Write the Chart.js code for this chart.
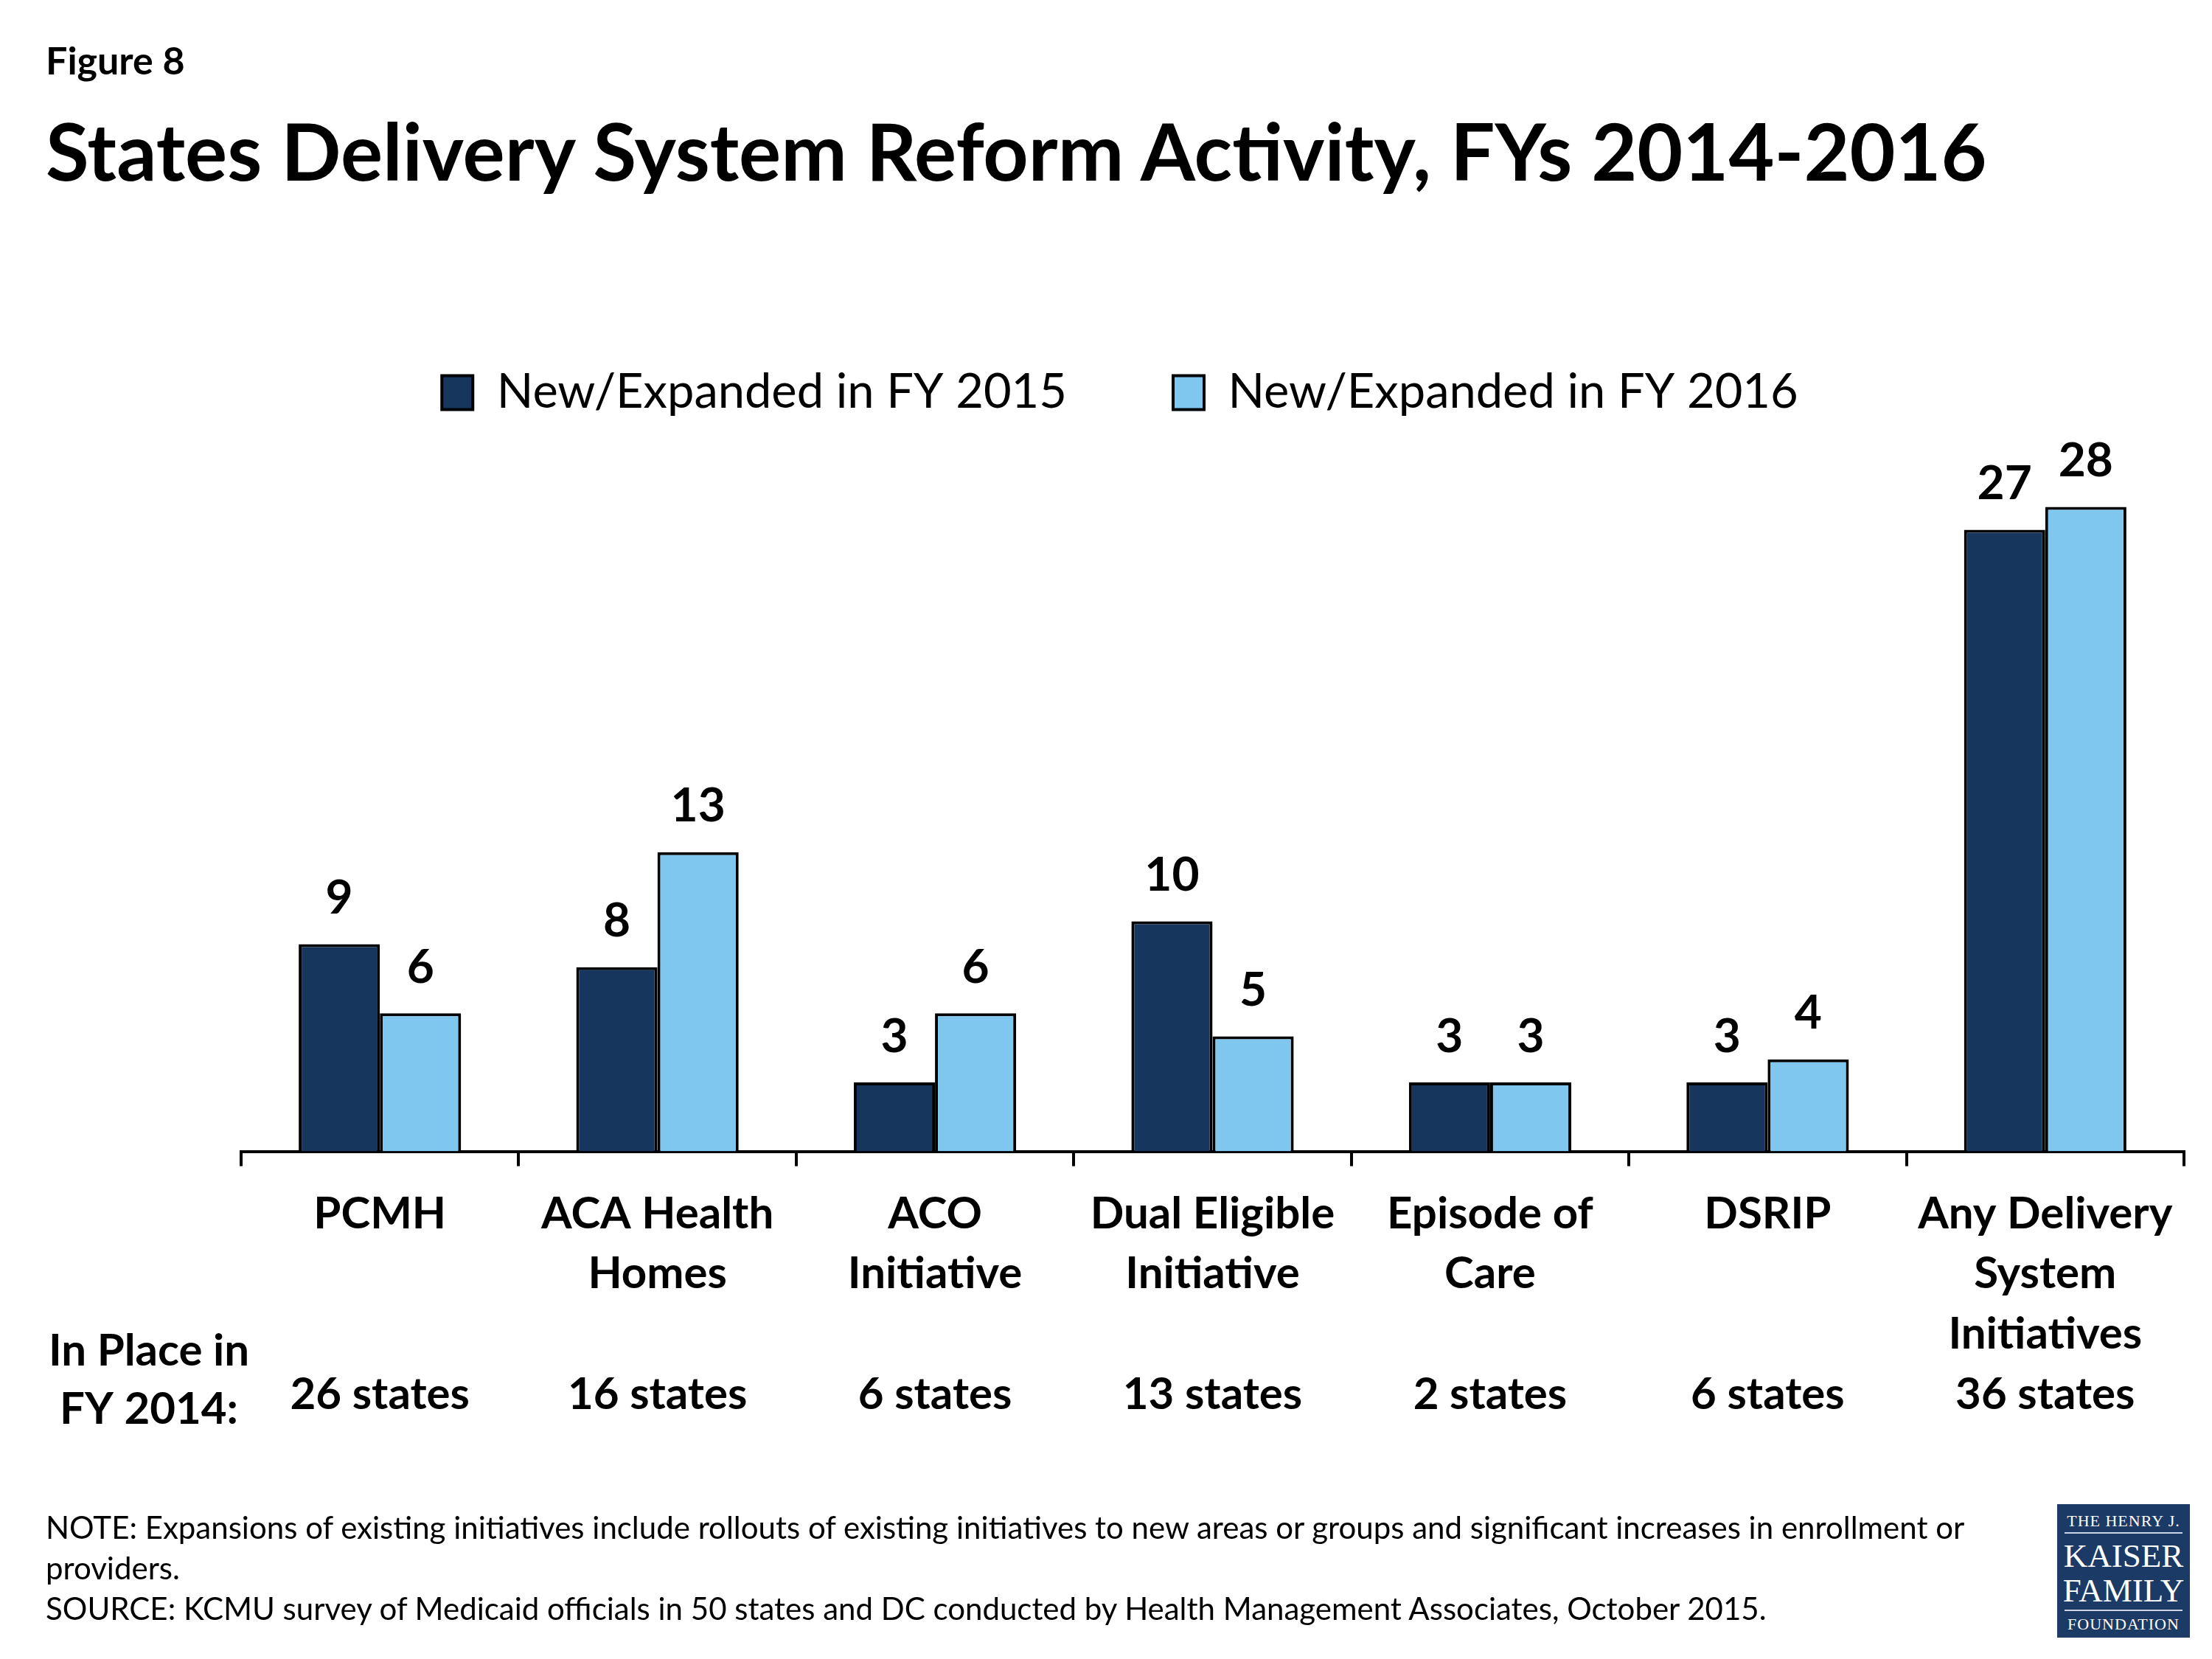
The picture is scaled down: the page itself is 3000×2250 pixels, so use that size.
<!DOCTYPE html>
<html>
<head>
<meta charset="utf-8">
<script src="https://cdn.jsdelivr.net/npm/chart.js"></script>
<style>
  html, body { margin: 0; padding: 0; background: #fff; }
  body { width: 3000px; height: 2250px; position: relative; overflow: hidden; font-family: Lato, "Open Sans", sans-serif; color: #000; }
  canvas { position: absolute; left: 0; top: 0; }
  .abs { position: absolute; white-space: nowrap; line-height: 1; }
  #fig { left: 62px; top: 55px; font-size: 52px; font-weight: bold; }
  #title { left: 62px; top: 150px; font-size: 107px; font-weight: bold; }
  #notes { left: 62px; top: 2044px; font-size: 42px; line-height: 55px; }
  /* logo box */
  #logo { position: absolute; left: 2790px; top: 2040px; width: 180px; height: 181px; background: #1b3a66; color: #fff; font-family: "Liberation Serif", "DejaVu Serif", serif; }
  #logo div { position: absolute; left: 0; width: 180px; text-align: center; line-height: 1; white-space: nowrap; }
  #logo .rule { left: 10px; width: 160px; height: 2px; background: #c9d3e3; }
</style>
</head>
<body>
<div id="fig" class="abs">Figure 8</div>
<div id="title" class="abs">States Delivery System Reform Activity, FYs 2014-2016</div>

<canvas id="chart" width="3000" height="2250"></canvas>

<div id="notes" class="abs">NOTE: Expansions of existing initiatives include rollouts of existing initiatives to new areas or groups and significant increases in enrollment or<br>providers.<br>SOURCE: KCMU survey of Medicaid officials in 50 states and DC conducted by Health Management Associates, October 2015.</div>

<div id="logo">
  <div style="top:12px;font-size:22px;letter-spacing:1px;">THE HENRY J.</div>
  <div class="rule" style="top:38px;"></div>
  <div style="top:48px;font-size:45px;">KAISER</div>
  <div style="top:95px;font-size:45px;">FAMILY</div>
  <div class="rule" style="top:143px;"></div>
  <div style="top:152px;font-size:22px;letter-spacing:1px;">FOUNDATION</div>
</div>

<script>
// chart data
const categoryLines = [
  ['PCMH'],
  ['ACA Health', 'Homes'],
  ['ACO', 'Initiative'],
  ['Dual Eligible', 'Initiative'],
  ['Episode of', 'Care'],
  ['DSRIP'],
  ['Any Delivery', 'System', 'Initiatives']
];
const statesFY2014 = [26, 16, 6, 13, 2, 6, 36];
const newFY2015 = [9, 8, 3, 10, 3, 3, 27];
const newFY2016 = [6, 13, 6, 5, 3, 4, 28];
const seriesNames = ['New/Expanded in FY 2015', 'New/Expanded in FY 2016'];

// 3 name lines + the "in place" count on the 4th line
const labels = categoryLines.map((lines, i) => {
  const out = lines.slice();
  while (out.length < 3) out.push('');
  out.push(statesFY2014[i] + ' states');
  return out;
});

// numbers over the bars + the "In Place in FY 2014:" row header
const valueLabels = {
  id: 'valueLabels',
  afterDatasetsDraw(chart) {
    const ctx = chart.ctx;
    ctx.save();
    ctx.fillStyle = '#000';
    ctx.textAlign = 'center';
    ctx.textBaseline = 'middle';
    ctx.font = 'bold 64px Lato';
    chart.data.datasets.forEach((ds, i) => {
      chart.getDatasetMeta(i).data.forEach((bar, j) => {
        ctx.fillText(ds.data[j], bar.x, bar.y - 62);
      });
    });
    ctx.font = 'bold 60px Lato';
    const b = chart.chartArea.bottom;
    ctx.fillText('In Place in', 202, b + 271);
    ctx.fillText('FY 2014:', 202, b + 350);
    ctx.restore();
  }
};

new Chart(document.getElementById('chart'), {
  type: 'bar',
  data: {
    labels: labels,
    datasets: [
      { label: seriesNames[0], data: newFY2015, backgroundColor: '#17365d', borderColor: '#000', borderWidth: 4 },
      { label: seriesNames[1], data: newFY2016, backgroundColor: '#7fc7ee', borderColor: '#000', borderWidth: 4 }
    ]
  },
  options: {
    responsive: false,
    animation: false,
    devicePixelRatio: 1,
    categoryPercentage: 0.585,
    barPercentage: 1.0,
    layout: { padding: { left: 76, right: 38, top: 356, bottom: 294 } },
    plugins: {
      tooltip: { enabled: false },
      legend: {
        position: 'top',
        labels: { boxWidth: 42, boxHeight: 46, padding: 144, color: '#000', font: { family: 'Lato', size: 65 } }
      }
    },
    scales: {
      x: {
        grid: { display: true, drawOnChartArea: false, drawTicks: true, tickLength: 20, color: '#000', lineWidth: 4, offset: true },
        border: { display: true, color: '#000', width: 4 },
        ticks: { color: '#000', font: { family: 'Lato', size: 60, weight: 'bold', lineHeight: 1.36 }, padding: 24, maxRotation: 0, autoSkip: false }
      },
      y: {
        min: 0,
        max: 31.6,
        afterFit(scale) { scale.width = 251; },
        ticks: { display: false },
        grid: { display: false },
        border: { display: false }
      }
    }
  },
  plugins: [valueLabels]
});
</script>
</body>
</html>
